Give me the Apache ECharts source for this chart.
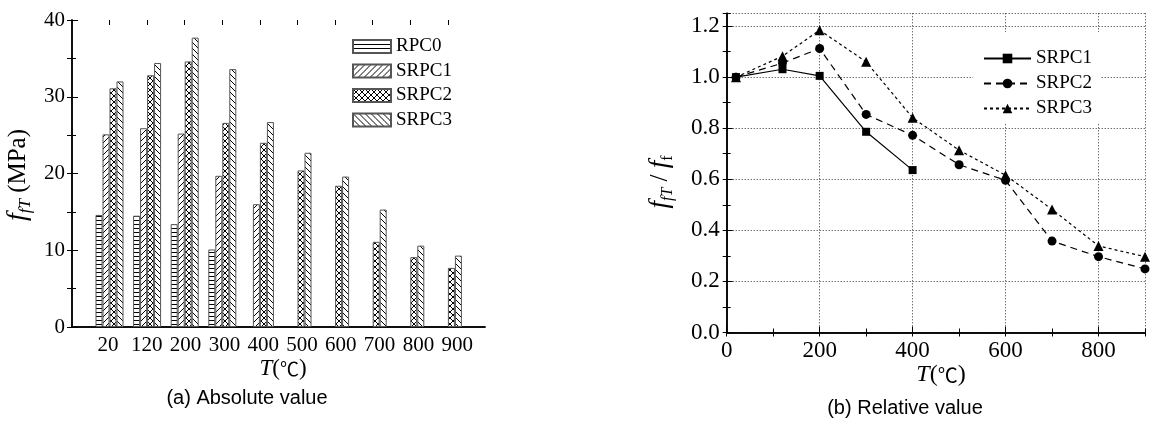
<!DOCTYPE html>
<html><head><meta charset="utf-8">
<script src="https://cdn.jsdelivr.net/npm/echarts@6/dist/echarts.min.js"></script>
<style>html,body{margin:0;padding:0;background:#fff}#c{width:1150px;height:421px}</style>
</head><body><div id="c"></div>
<script>
// ---------- data ----------
const categories = ['20','120','200','300','400','500','600','700','800','900'];
const rpc0Abs  = [14.6, 14.5, 13.4, 10.1, null, null, null, null, null, null];
const srpc1Abs = [25.1, 25.9, 25.2, 19.7, 16.0, null, null, null, null, null];
const srpc2Abs = [31.1, 32.8, 34.6, 26.6, 24.0, 20.4, 18.4, 11.1, 9.1, 7.7];
const srpc3Abs = [32.0, 34.4, 37.7, 33.6, 26.7, 22.7, 19.6, 15.3, 10.6, 9.3];

const temps    = [20, 120, 200, 300, 400, 500, 600, 700, 800, 900];
const srpc1Rel = [1.0, 1.031, 1.005, 0.786, 0.636];
const srpc2Rel = [1.0, 1.055, 1.112, 0.854, 0.772, 0.657, 0.596, 0.358, 0.297, 0.249];
const srpc3Rel = [1.0, 1.082, 1.184, 1.060, 0.841, 0.714, 0.616, 0.482, 0.339, 0.297];

const yTicksAbs = [0, 10, 20, 30, 40];

// ---------- styles ----------
const SERIF = 'Liberation Serif';
const SANS = 'Liberation Sans';
const CJK = 'Noto Sans CJK SC';
function makePattern(kind){
  const s = kind === 'h' ? 4 : 6;
  const c = document.createElement('canvas'); c.width = s; c.height = s;
  const g = c.getContext('2d');
  g.fillStyle = '#fff'; g.fillRect(0,0,s,s);
  g.strokeStyle = '#000'; g.lineWidth = 1;
  g.beginPath();
  if (kind === 'h') { g.moveTo(0,0.5); g.lineTo(s,0.5); }
  if (kind === '/' || kind === 'x') {
    g.moveTo(-1,s+1); g.lineTo(s+1,-1);
    g.moveTo(-1,1); g.lineTo(1,-1);
    g.moveTo(s-1,s+1); g.lineTo(s+1,s-1);
  }
  if (kind === '\\' || kind === 'x') {
    g.moveTo(-1,-1); g.lineTo(s+1,s+1);
    g.moveTo(-1,s-1); g.lineTo(1,s+1);
    g.moveTo(s-1,-1); g.lineTo(s+1,1);
  }
  g.stroke();
  return {image: c, repeat: 'repeat'};
}
const black = '#000';
const frameLine = {show:true, lineStyle:{color:black, width:1.5}};
const noTick = {show:false}, noLabel = {show:false}, noSplit = {show:false};
const richL = {a:{fontFamily:SERIF, fontSize:21, color:black}};
const richR = {a:{fontFamily:SERIF, fontSize:23, color:black}};

function barSeries(name, data, kind){
  return {name, type:'bar', xAxisIndex:2, yAxisIndex:2, data, barWidth:7, barGap:'0%',
    itemStyle:{color: makePattern(kind), borderColor:'#555', borderWidth:1},
    emphasis:{disabled:true}, silent:true};
}
function lineSeries(name, ys, dash, symbol, size){
  return {name, type:'line', xAxisIndex:5, yAxisIndex:4,
    data: ys.map((v,i)=>[temps[i], v]),
    symbol, symbolSize:size, showSymbol:true, clip:false,
    lineStyle:{color:black, width:1.2, type:dash},
    itemStyle:{color:black}, emphasis:{disabled:true}, silent:true};
}

const chart = echarts.init(document.getElementById('c'), null, {renderer:'canvas'});
chart.setOption({
  animation:false,
  backgroundColor:'#fff',
  textStyle:{fontFamily:SERIF},
  grid:[
    {left:72, top:20, width:413, height:307, outerBoundsMode:'none'},
    {left:90.7, top:20, width:376, height:307, outerBoundsMode:'none'},
    {left:88.6, top:20, width:388, height:307, outerBoundsMode:'none'},
    {left:726.7, top:13.3, width:418.3, height:319.2, outerBoundsMode:'none'}
  ],
  xAxis:[
    {gridIndex:0, type:'value', min:0, max:1, position:'bottom', axisLine:frameLine, axisTick:noTick, axisLabel:noLabel, splitLine:noSplit},
    {gridIndex:0, type:'value', min:0, max:1, position:'top', axisLine:frameLine, axisTick:noTick, axisLabel:noLabel, splitLine:noSplit},
    {gridIndex:1, type:'category', data:categories, axisLine:{show:false}, axisTick:noTick, axisLabel:noLabel, splitLine:noSplit},
    {gridIndex:1, type:'category', data:categories, position:'top', axisLine:{show:false},
      axisTick:{show:true, inside:true, alignWithLabel:true, length:5, lineStyle:{color:black}}, axisLabel:noLabel, splitLine:noSplit},
    {gridIndex:2, type:'category', data:categories, axisLine:{show:false}, axisTick:noTick,
      axisLabel:{show:true, interval:0, fontFamily:SERIF, fontSize:21, color:black, margin:8,
        formatter:v=>'{a|'+v+'}', rich:richL}, splitLine:noSplit},
    {gridIndex:3, type:'value', min:0, max:900, interval:200, position:'bottom', axisLine:frameLine,
      axisTick:{show:true, inside:true, length:6, lineStyle:{color:black}},
      axisLabel:{show:true, showMaxLabel:false, fontFamily:SERIF, fontSize:23, color:black, margin:7,
        formatter:v=>'{a|'+v+'}', rich:richR},
      splitLine:{show:true, lineStyle:{color:'#333', width:1, type:[1,2]}}},
    {gridIndex:3, type:'value', min:0, max:900, interval:100, position:'bottom', axisLine:{show:false},
      axisTick:{show:true, inside:true, length:4, lineStyle:{color:black}}, axisLabel:noLabel, splitLine:noSplit},
    {gridIndex:3, type:'value', min:0, max:900, interval:100, position:'top', axisLine:frameLine,
      axisTick:{show:true, inside:true, length:4, lineStyle:{color:black}}, axisLabel:noLabel, splitLine:noSplit}
  ],
  yAxis:[
    {gridIndex:0, type:'value', min:0, max:40, interval:10, position:'left', axisLine:frameLine,
      axisTick:{show:true, inside:true, length:6, lineStyle:{color:black}},
      minorTick:{show:true, splitNumber:2, length:4, lineStyle:{color:black}},
      axisLabel:{show:true, fontFamily:SERIF, fontSize:21, color:black, margin:7,
        formatter:v=> yTicksAbs.includes(v) ? '{a|'+v+'}' : '', rich:richL}, splitLine:noSplit},
    {gridIndex:0, type:'value', min:0, max:40, interval:5, position:'right', axisLine:frameLine,
      axisTick:{show:true, inside:true, length:5, lineStyle:{color:black}}, axisLabel:noLabel, splitLine:noSplit},
    {gridIndex:1, type:'value', min:0, max:40, show:false},
    {gridIndex:2, type:'value', min:0, max:40, show:false},
    {gridIndex:3, type:'value', min:0, max:1.25, interval:0.2, position:'left', axisLine:frameLine,
      axisTick:{show:true, inside:true, length:6, lineStyle:{color:black}},
      axisLabel:{show:true, showMaxLabel:false, fontFamily:SERIF, fontSize:23, color:black, margin:7,
        formatter:v=>'{a|'+v.toFixed(1)+'}', rich:richR},
      splitLine:{show:true, lineStyle:{color:'#333', width:1, type:[1,2]}}},
    {gridIndex:3, type:'value', min:0, max:1.25, interval:0.1, position:'left', axisLine:{show:false},
      axisTick:{show:true, inside:true, length:4, lineStyle:{color:black}}, axisLabel:noLabel, splitLine:noSplit},
    {gridIndex:3, type:'value', min:0, max:1.25, interval:0.1, position:'right', axisLine:frameLine,
      axisTick:{show:true, inside:true, length:4, lineStyle:{color:black}}, axisLabel:noLabel, splitLine:noSplit}
  ],
  legend:[
    {data:['RPC0','SRPC1','SRPC2','SRPC3'], orient:'vertical', left:352, top:37, padding:0,
      itemWidth:38, itemHeight:13, itemGap:5.5, icon:'rect', selectedMode:false,
      textStyle:{fontFamily:SERIF, fontSize:19, color:black}},
    {data:['SRPC1 ','SRPC2 ','SRPC3 '], orient:'vertical', left:973, top:32, padding:[17,9,6,10],
      backgroundColor:'#fff', itemWidth:47, itemHeight:12, itemGap:6, selectedMode:false,
      formatter:n=>n.trim(), textStyle:{fontFamily:SERIF, fontSize:19, color:black}}
  ],
  graphic:[
    {type:'text', x:18, y:175, rotation:Math.PI/2, silent:true,
      style:{text:'{i|f}{s|fT}{n| (MPa)}', align:'center', verticalAlign:'middle', fill:black,
        rich:{i:{fontFamily:SERIF, fontStyle:'italic', fontSize:28, lineHeight:32},
              s:{fontFamily:SERIF, fontStyle:'italic', fontSize:17, lineHeight:17, verticalAlign:'bottom'},
              n:{fontFamily:SERIF, fontSize:25, lineHeight:32}}}},
    {type:'text', x:283, y:369, silent:true,
      style:{text:'{i|T}{n|(}{c|℃}{n|)}', align:'center', verticalAlign:'middle', fill:black,
        rich:{i:{fontFamily:SERIF, fontStyle:'italic', fontSize:23}, n:{fontFamily:SERIF, fontSize:23},
              c:{fontFamily:CJK, fontSize:19}}}},
    {type:'text', x:247, y:398, silent:true,
      style:{text:'(a) Absolute value', align:'center', verticalAlign:'middle', fill:black, fontFamily:SANS, fontSize:20}},
    {type:'text', x:660, y:182, rotation:Math.PI/2, silent:true,
      style:{text:'{i|f}{s|fT}{n| / }{i|f}{t|f}', align:'center', verticalAlign:'middle', fill:black,
        rich:{i:{fontFamily:SERIF, fontStyle:'italic', fontSize:27, lineHeight:32},
              s:{fontFamily:SERIF, fontStyle:'italic', fontSize:16, lineHeight:16, verticalAlign:'bottom'},
              t:{fontFamily:SERIF, fontSize:16, lineHeight:16, verticalAlign:'bottom'},
              n:{fontFamily:SERIF, fontSize:25, lineHeight:32}}}},
    {type:'text', x:941, y:375, silent:true,
      style:{text:'{i|T}{n|(}{c|℃}{n|)}', align:'center', verticalAlign:'middle', fill:black,
        rich:{i:{fontFamily:SERIF, fontStyle:'italic', fontSize:24}, n:{fontFamily:SERIF, fontSize:24},
              c:{fontFamily:CJK, fontSize:20}}}},
    {type:'text', x:905, y:408, silent:true,
      style:{text:'(b) Relative value', align:'center', verticalAlign:'middle', fill:black, fontFamily:SANS, fontSize:20}}
  ],
  series:[
    barSeries('RPC0', rpc0Abs, 'h'),
    barSeries('SRPC1', srpc1Abs, '/'),
    barSeries('SRPC2', srpc2Abs, 'x'),
    barSeries('SRPC3', srpc3Abs, '\\'),
    lineSeries('SRPC1 ', srpc1Rel, 'solid', 'rect', 8),
    lineSeries('SRPC2 ', srpc2Rel, [7,5], 'circle', 9),
    lineSeries('SRPC3 ', srpc3Rel, [3,3], 'triangle', 10)
  ]
});
</script></body></html>
